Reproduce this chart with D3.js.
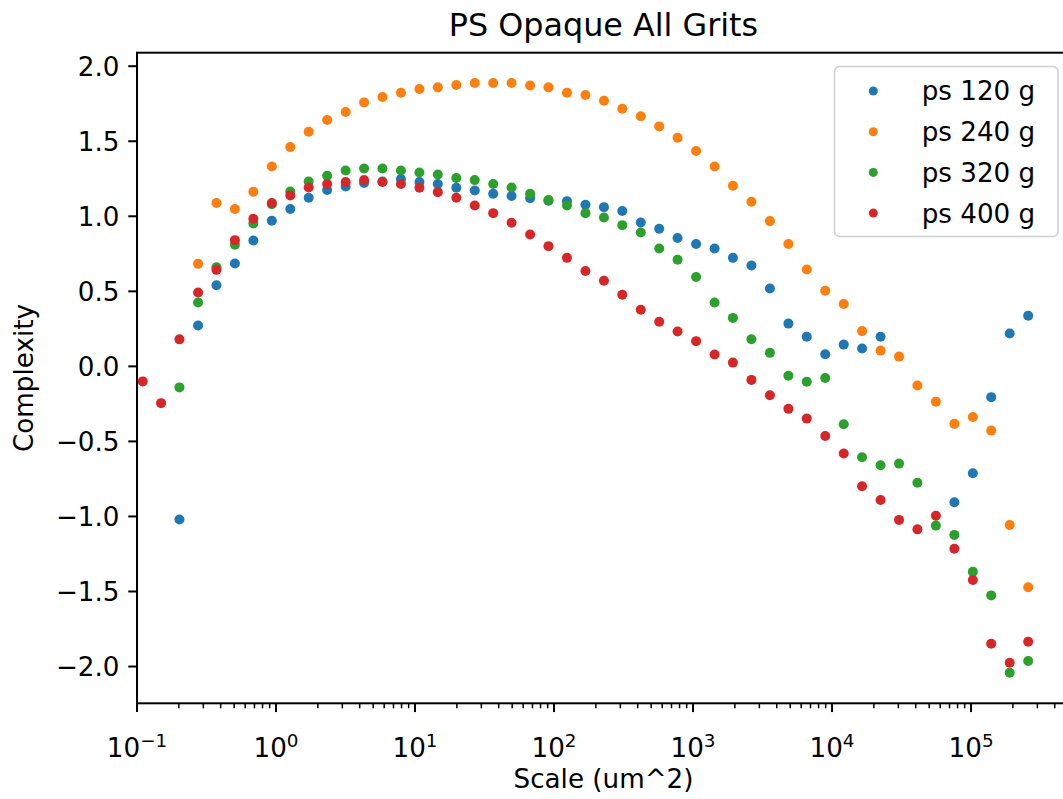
<!DOCTYPE html>
<html>
<head>
<meta charset="utf-8">
<script src="https://cdn.jsdelivr.net/npm/d3@7"></script>
<style>
  html, body { margin: 0; padding: 0; background: #fff; }
  svg { display: block; font-family: "DejaVu Sans", sans-serif; }
</style>
</head>
<body>
<svg id="chart" width="1063" height="799"></svg>
<script>
// ---- data ----
const scales = [0.110, 0.149, 0.202, 0.275, 0.373, 0.506, 0.687, 0.933, 1.267, 1.718,
  2.333, 3.170, 4.30, 5.83, 7.92, 10.76, 14.59, 19.82, 26.9, 36.5,
  49.5, 67.3, 91.2, 123.9, 168.3, 228.6, 309.7, 420.7, 571, 774,
  1052, 1429, 1936, 2630, 3573, 4853, 6577, 8933, 12134, 16444,
  22336, 30339, 41115, 55847, 75858, 103038, 139637, 189671, 257632];

const ps120 = [null, null, -1.02, 0.272, 0.541, 0.685, 0.839, 0.97, 1.048, 1.123,
  1.175, 1.199, 1.222, 1.232, 1.248, 1.228, 1.215, 1.19, 1.172, 1.15,
  1.135, 1.121, 1.103, 1.101, 1.077, 1.061, 1.035, 0.959, 0.917, 0.855,
  0.815, 0.785, 0.723, 0.672, 0.519, 0.285, 0.197, 0.081, 0.145, 0.119,
  0.197, null, null, null, -0.905, -0.712, -0.205, 0.219, 0.337];

const ps240 = [null, null, null, 0.683, 1.088, 1.048, 1.163, 1.332, 1.461, 1.563,
  1.641, 1.695, 1.759, 1.795, 1.823, 1.848, 1.859, 1.875, 1.888, 1.888,
  1.888, 1.872, 1.859, 1.823, 1.808, 1.77, 1.717, 1.666, 1.599, 1.523,
  1.435, 1.332, 1.203, 1.097, 0.968, 0.815, 0.645, 0.504, 0.415, 0.235,
  0.105, 0.065, -0.128, -0.235, -0.383, -0.337, -0.428, -1.057, -1.472];

const ps320 = [null, null, -0.14, 0.425, 0.661, 0.81, 0.952, 1.08, 1.165, 1.232,
  1.27, 1.305, 1.319, 1.319, 1.305, 1.292, 1.279, 1.255, 1.241, 1.215,
  1.192, 1.15, 1.108, 1.072, 1.021, 0.992, 0.941, 0.892, 0.785, 0.71,
  0.595, 0.425, 0.323, 0.181, 0.09, -0.063, -0.103, -0.077, -0.386, -0.605,
  -0.659, -0.648, -0.775, -1.061, -1.123, -1.368, -1.526, -2.041, -1.963];

const ps400 = [-0.10, -0.245, 0.18, 0.492, 0.643, 0.841, 0.983, 1.088, 1.139, 1.192,
  1.215, 1.228, 1.241, 1.228, 1.215, 1.19, 1.161, 1.123, 1.072, 1.021,
  0.957, 0.879, 0.801, 0.723, 0.635, 0.571, 0.477, 0.377, 0.297, 0.232,
  0.168, 0.079, 0.025, -0.09, -0.192, -0.283, -0.348, -0.464, -0.581, -0.799,
  -0.89, -1.023, -1.086, -0.995, -1.215, -1.423, -1.848, -1.975, -1.835];

const seriesNames = ["ps 120 g", "ps 240 g", "ps 320 g", "ps 400 g"];
const seriesValues = [ps120, ps240, ps320, ps400];
const colors = ["#1f77b4", "#ff7f0e", "#2ca02c", "#d62728"];
const yTicks = [-2.0, -1.5, -1.0, -0.5, 0.0, 0.5, 1.0, 1.5, 2.0];
const xMajorExps = [-1, 0, 1, 2, 3, 4, 5];
const titleText = "PS Opaque All Grits";
const xLabel = "Scale (um^2)";
const yLabel = "Complexity";

// ---- layout ----
const svg = d3.select("#chart");
const axL = 137, axR = 1070, axT = 52.7, axB = 703.3;
const fs = 26.2;

const x = d3.scaleLog().domain([0.1, 5.15e5]).range([axL, axR]);
const y = d3.scaleLinear().domain([-2.245, 2.09]).range([axB, axT]);

// points
const g = svg.append("g");
seriesValues.forEach((vals, si) => {
  const pts = scales.map((s, i) => ({s, v: vals[i]})).filter(d => d.v !== null);
  g.selectAll(null).data(pts).enter().append("circle")
    .attr("cx", d => x(d.s))
    .attr("cy", d => y(d.v))
    .attr("r", 5)
    .attr("fill", colors[si]);
});

// minor x ticks
const minor = [];
for (let e = -1; e <= 5; e++) for (let m = 2; m <= 9; m++) {
  const v = m * Math.pow(10, e);
  if (v <= x.domain()[1]) minor.push(v);
}
svg.append("g").selectAll("line").data(minor).enter().append("line")
  .attr("x1", d => x(d)).attr("x2", d => x(d))
  .attr("y1", axB).attr("y2", axB + 5)
  .attr("stroke", "#000").attr("stroke-width", 1.5);

// major x ticks
const xt = svg.append("g");
xMajorExps.forEach(e => {
  const xv = x(Math.pow(10, e));
  xt.append("line").attr("x1", xv).attr("x2", xv)
    .attr("y1", axB).attr("y2", axB + 8.75)
    .attr("stroke", "#000").attr("stroke-width", 2);
  const t = xt.append("text").attr("x", xv).attr("y", 757)
    .attr("text-anchor", "middle").attr("font-size", fs).attr("fill", "#000");
  t.append("tspan").text("10");
  t.append("tspan").attr("dy", -10).attr("font-size", fs * 0.7)
    .text(e < 0 ? "\u2212" + (-e) : String(e));
});

// y ticks
const yt = svg.append("g");
yTicks.forEach(v => {
  const yv = y(v);
  yt.append("line").attr("x1", axL - 8.75).attr("x2", axL)
    .attr("y1", yv).attr("y2", yv).attr("stroke", "#000").attr("stroke-width", 2);
  yt.append("text").attr("x", axL - 17.5).attr("y", yv).attr("dy", "0.36em")
    .attr("text-anchor", "end").attr("font-size", fs).attr("fill", "#000")
    .text(d3.format(".1f")(v).replace("-", "\u2212"));
});

// spines
svg.append("rect").attr("x", axL).attr("y", axT)
  .attr("width", axR - axL).attr("height", axB - axT)
  .attr("fill", "none").attr("stroke", "#000").attr("stroke-width", 2);

// title & labels
svg.append("text").attr("x", (axL + axR) / 2).attr("y", 36)
  .attr("text-anchor", "middle").attr("font-size", 31.8).text(titleText);
svg.append("text").attr("x", (axL + axR) / 2).attr("y", 788)
  .attr("text-anchor", "middle").attr("font-size", fs).text(xLabel);
svg.append("text").attr("transform", `translate(33,${(axT + axB) / 2}) rotate(-90)`)
  .attr("text-anchor", "middle").attr("font-size", fs).text(yLabel);

// legend
const lg = svg.append("g");
lg.append("rect").attr("x", 834.5).attr("y", 66.5).attr("width", 223.5).attr("height", 170)
  .attr("rx", 5).attr("fill", "#fff").attr("fill-opacity", 0.8)
  .attr("stroke", "#d0d0d0").attr("stroke-width", 1.5);
seriesNames.forEach((n, i) => {
  const ly = 91 + i * 40.7;
  lg.append("circle").attr("cx", 873.3).attr("cy", ly).attr("r", 4.5).attr("fill", colors[i]);
  lg.append("text").attr("x", 921.7).attr("y", ly).attr("dy", "0.36em")
    .attr("font-size", fs).attr("fill", "#000").text(n);
});
</script>
</body>
</html>
